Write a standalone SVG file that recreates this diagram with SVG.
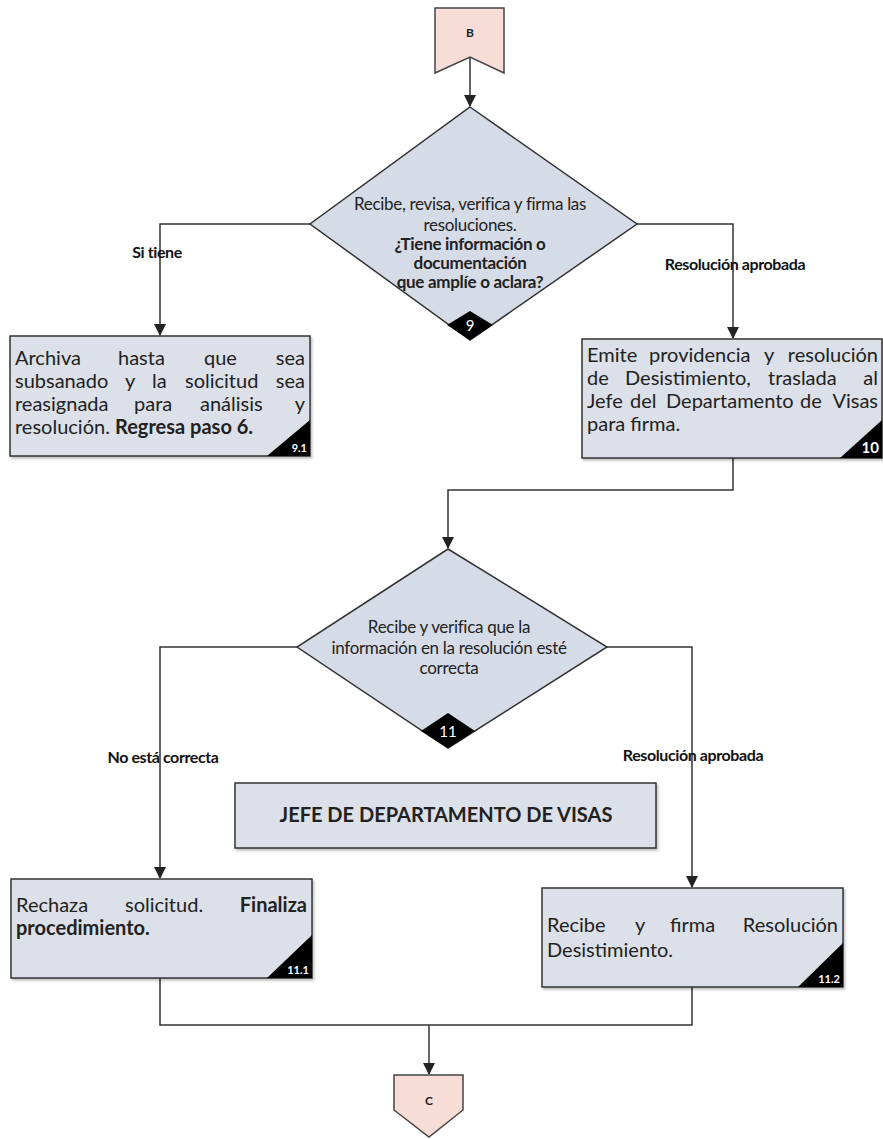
<svg xmlns="http://www.w3.org/2000/svg" width="883" height="1139" viewBox="0 0 883 1139">
<defs>
<marker id="arr" markerWidth="12" markerHeight="12" refX="11" refY="6" orient="auto" markerUnits="userSpaceOnUse">
<path d="M0,0 L12,6 L0,12 Z" fill="#222"/>
</marker>
<filter id="sh" x="-5%" y="-5%" width="110%" height="115%">
<feDropShadow dx="1.5" dy="2" stdDeviation="1.2" flood-color="#000" flood-opacity="0.25"/>
</filter>
</defs>
<style>
.box{fill:#dbe0e9;stroke:#333;stroke-width:1.5;filter:url(#sh)}
.dia{fill:#d6dce7;stroke:#333;stroke-width:1.5}
.off{fill:#f8ddd6;stroke:#444;stroke-width:1.5}
.con{fill:none;stroke:#333;stroke-width:1.5}
.t{font-family:Lato,"Liberation Sans",sans-serif;fill:#222}
.bt{font-family:Lato,"Liberation Sans",sans-serif;font-size:20px;fill:#222}
.dt{font-family:Lato,"Liberation Sans",sans-serif;font-size:17px;fill:#222;text-anchor:middle;letter-spacing:-0.3px}
.lbl{font-family:Lato,"Liberation Sans",sans-serif;font-size:16px;font-weight:bold;fill:#111;text-anchor:middle;letter-spacing:-0.4px}
.num{font-family:Lato,"Liberation Sans",sans-serif;font-weight:bold;fill:#fff;text-anchor:end}
.b{font-weight:bold}
.e{text-anchor:end}
</style>
<rect width="883" height="1139" fill="#fff"/>

<g id="connectors">
<path class="con" d="M470,57 L470,106" marker-end="url(#arr)"/>
<path class="con" d="M310,224 L160,224 L160,335" marker-end="url(#arr)"/>
<path class="con" d="M637,224 L733,224 L733,338" marker-end="url(#arr)"/>
<path class="con" d="M733,458 L733,490 L448,490 L448,548" marker-end="url(#arr)"/>
<path class="con" d="M297,647 L160,647 L160,878" marker-end="url(#arr)"/>
<path class="con" d="M607,647 L692,647 L692,887" marker-end="url(#arr)"/>
<path class="con" d="M160,978 L160,1025 L692,1025 L692,987"/>
<path class="con" d="M429,1025 L429,1074" marker-end="url(#arr)"/>
<text class="lbl" x="157" y="258">Si tiene</text>
<text class="lbl" x="735" y="270">Resolución aprobada</text>
<text class="lbl" x="163" y="763">No está correcta</text>
<text class="lbl" x="693" y="761">Resolución aprobada</text>
</g>

<g id="nodeB">
<path class="off" d="M435,8 L504,8 L504,73 L470,57 L435,73 Z"/>
<text class="t b" x="470" y="37" font-size="12" text-anchor="middle">B</text>
</g>

<g id="node9">
<path class="dia" d="M470,107 L637,224 L470,340 L310,224 Z"/>
<path d="M470,311 L493,325 L470,340 L447,325 Z" fill="#000"/>
<text class="t" x="470" y="331" font-size="15" text-anchor="middle" style="fill:#fff">9</text>
<text class="dt" x="470" y="210">Recibe, revisa, verifica y firma las</text>
<text class="dt" x="470" y="231">resoluciones.</text>
<text class="dt b" x="470" y="250">¿Tiene información o</text>
<text class="dt b" x="470" y="269">documentación</text>
<text class="dt b" x="470" y="288">que amplíe o aclara?</text>
</g>

<g id="node9_1">
<rect class="box" x="10" y="336" width="300" height="120"/>
<path d="M267,456 L310,456 L310,420 Z" fill="#000"/>
<text class="num" x="307" y="452" font-size="11">9.1</text>
<text class="bt" y="365"><tspan x="15">Archiva</tspan><tspan x="118">hasta</tspan><tspan x="204">que</tspan></text>
<text class="bt e" x="305" y="365">sea</text>
<text class="bt" y="388"><tspan x="15">subsanado</tspan><tspan x="125">y</tspan><tspan x="152">la</tspan><tspan x="185">solicitud</tspan></text>
<text class="bt e" x="305" y="388">sea</text>
<text class="bt" y="411"><tspan x="15">reasignada</tspan><tspan x="134">para</tspan><tspan x="200">análisis</tspan></text>
<text class="bt e" x="305" y="411">y</text>
<text class="bt" x="15" y="434">resolución. <tspan class="b">Regresa paso 6.</tspan></text>
</g>

<g id="node10">
<rect class="box" x="582" y="339" width="300" height="119"/>
<path d="M840,458 L882,458 L882,420 Z" fill="#000"/>
<text class="num" x="879" y="453" font-size="15">10</text>
<text class="bt" y="362"><tspan x="587">Emite</tspan><tspan x="649">providencia</tspan><tspan x="764">y</tspan></text>
<text class="bt e" x="878" y="362">resolución</text>
<text class="bt" y="385"><tspan x="587">de</tspan><tspan x="625">Desistimiento,</tspan><tspan x="768">traslada</tspan></text>
<text class="bt e" x="878" y="385">al</text>
<text class="bt" y="408"><tspan x="587">Jefe</tspan><tspan x="630">del</tspan><tspan x="666">Departamento</tspan><tspan x="800">de</tspan></text>
<text class="bt e" x="878" y="408">Visas</text>
<text class="bt" x="587" y="431">para firma.</text>
</g>

<g id="node11">
<path class="dia" d="M448,549 L607,647 L448,748 L297,647 Z"/>
<path d="M448,713 L475,731 L448,748 L421,731 Z" fill="#000"/>
<text class="t" x="448" y="737" font-size="15" text-anchor="middle" style="fill:#fff">11</text>
<text class="dt" x="449" y="633">Recibe y verifica que la</text>
<text class="dt" x="449" y="654">información en la resolución esté</text>
<text class="dt" x="449" y="674">correcta</text>
</g>

<g id="jefe">
<rect class="box" x="235" y="783" width="421" height="65"/>
<text class="t b" x="446" y="822" font-size="20" text-anchor="middle">JEFE DE DEPARTAMENTO DE VISAS</text>
</g>

<g id="node11_1">
<rect class="box" x="11" y="879" width="301" height="99"/>
<path d="M267,978 L312,978 L312,935 Z" fill="#000"/>
<text class="num" x="309" y="974" font-size="11">11.1</text>
<text class="bt" y="912"><tspan x="16">Rechaza</tspan><tspan x="125">solicitud.</tspan></text>
<text class="bt b e" x="307" y="912">Finaliza</text>
<text class="bt b" x="16" y="935">procedimiento.</text>
</g>

<g id="node11_2">
<rect class="box" x="542" y="888" width="301" height="99"/>
<path d="M798,987 L843,987 L843,943 Z" fill="#000"/>
<text class="num" x="840" y="983" font-size="11">11.2</text>
<text class="bt" y="932"><tspan x="547">Recibe</tspan><tspan x="635">y</tspan><tspan x="670">firma</tspan></text>
<text class="bt e" x="838" y="932">Resolución</text>
<text class="bt" x="547" y="957">Desistimiento.</text>
</g>

<g id="nodeC">
<path class="off" d="M394,1075 L463,1075 L463,1110 L429,1137 L394,1110 Z"/>
<text class="t b" x="429" y="1105" font-size="12" text-anchor="middle">C</text>
</g>
</svg>
